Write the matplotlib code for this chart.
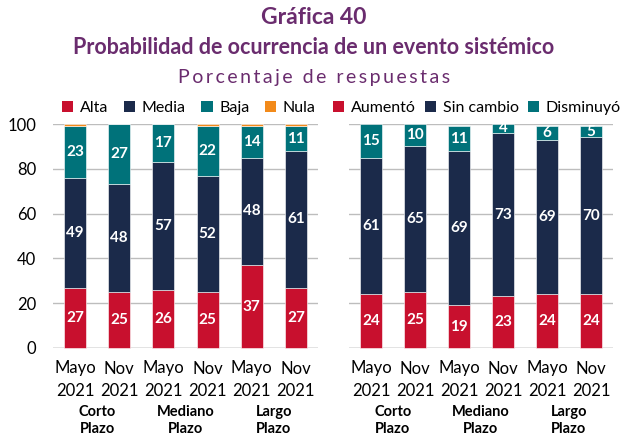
import matplotlib.pyplot as plt
from matplotlib.patches import Patch
import numpy as np

plt.rcParams['font.family'] = ['Lato', 'DejaVu Sans']

periods = ['Mayo\n2021', 'Nov\n2021'] * 3
groups = ['Corto\nPlazo', 'Mediano\nPlazo', 'Largo\nPlazo']

# left panel: probability of occurrence
alta = [27, 25, 26, 25, 37, 27]
media = [49, 48, 57, 52, 48, 61]
baja = [23, 27, 17, 22, 14, 11]
nula = [1, 0, 0, 1, 1, 1]

# right panel: change in probability
aumento = [24, 25, 19, 23, 24, 24]
sin_cambio = [61, 65, 69, 73, 69, 70]
disminuyo = [15, 10, 11, 4, 6, 5]

RED = '#C8102E'
NAVY = '#1B2A4A'
TEAL = '#00727A'
ORANGE = '#F28A1A'
PURPLE = '#6A2C6E'

W, H = 628, 438
fig = plt.figure(figsize=(W / 100, H / 100), dpi=100)


def spaced(s):
    # loose tracking for the subtitle
    return '\u2009'.join(s)


fig.text(0.5, 1 - 18 / H, 'Gráfica 40', ha='center', va='center',
         fontsize=16.5, fontweight='bold', color=PURPLE)
fig.text(0.5, 1 - 47 / H, 'Probabilidad de ocurrencia de un evento sistémico',
         ha='center', va='center', fontsize=15.5, fontweight='bold', color=PURPLE)
fig.text(0.5, 1 - 78 / H, spaced('Porcentaje de respuestas'),
         ha='center', va='center', fontsize=14, color=PURPLE)


def panel(x0, x1, series, colors, names, show_y, labeled):
    ax = fig.add_axes([x0 / W, (H - 348) / H, (x1 - x0) / W, 224 / H])
    x = np.arange(len(periods))
    bottom = np.zeros(len(periods))
    for vals, col, lab in zip(series, colors, labeled):
        vals = np.array(vals, dtype=float)
        ax.bar(x, vals, 0.5, bottom=bottom, color=col, edgecolor='white',
               linewidth=0.4, zorder=3, clip_on=False)
        if lab:
            for xi, b, v in zip(x, bottom, vals):
                if v > 0:
                    ax.text(xi, b + v / 2, f'{v:.0f}', ha='center', va='center',
                            color='white', fontsize=11, fontweight='bold', zorder=4)
        bottom += vals
    ax.set_xlim(-0.5, 5.5)
    ax.set_ylim(0, 100)
    ax.set_yticks(range(0, 101, 20))
    ax.grid(axis='y', color='#BDBDBD', linewidth=1, zorder=0)
    ax.axhline(0, color='#A6A6A6', linewidth=1, zorder=2)
    for s in ax.spines.values():
        s.set_visible(False)
    ax.tick_params(length=0)
    ax.set_xticks(x)
    ax.set_xticklabels(periods, fontsize=12, linespacing=1.5)
    ax.tick_params(axis='x', pad=9)
    if show_y:
        ax.tick_params(axis='y', labelsize=12, pad=12)
    else:
        ax.set_yticklabels([])
    # category names centred under each pair of bars
    for gi, g in enumerate(groups):
        ax.text(2 * gi + 0.5, -57 / 224, g, transform=ax.get_xaxis_transform(),
                ha='center', va='top', fontsize=10.5, fontweight='bold',
                linespacing=1.3)
    handles = [Patch(facecolor=c, label=n) for c, n in zip(colors, names)]
    return ax, handles


axl, hl = panel(53, 318, [alta, media, baja, nula], [RED, NAVY, TEAL, ORANGE],
                ['Alta', 'Media', 'Baja', 'Nula'], True, [True, True, True, False])
axr, hr = panel(349, 613, [aumento, sin_cambio, disminuyo], [RED, NAVY, TEAL],
                ['Aumentó', 'Sin cambio', 'Disminuyó'], False, [True, True, True])

legend_kw = dict(loc='center left', frameon=False, fontsize=11.5, handlelength=0.7,
                 handleheight=0.7, handletextpad=0.4, borderaxespad=0, borderpad=0)
fig.legend(handles=hl, bbox_to_anchor=(62 / W, 1 - 108 / H), ncol=4,
           columnspacing=1.0, **legend_kw)
fig.legend(handles=hr, bbox_to_anchor=(333 / W, 1 - 108 / H), ncol=3,
           columnspacing=0.6, **legend_kw)

fig.savefig('out.png', dpi=100)
